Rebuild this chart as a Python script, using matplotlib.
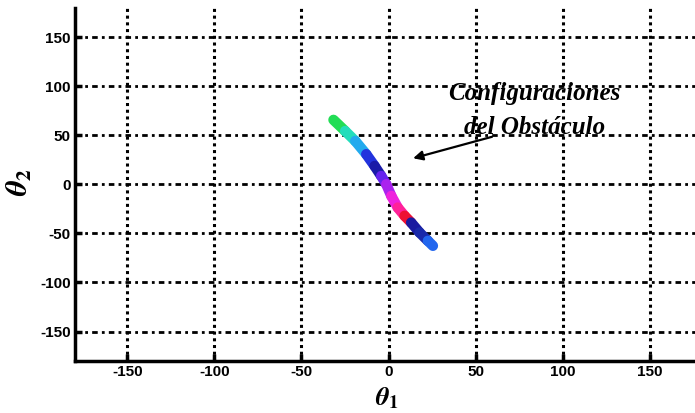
import matplotlib
matplotlib.use("Agg")
import matplotlib.pyplot as plt
from matplotlib.collections import LineCollection
import numpy as np

# trace of obstacle configurations (theta1, theta2)
theta1 = [-31.6, -24.9, -19.1, -12.8, -8.0, -4.2, -1.3, 1.6, 5.3, 9.2, 13.0, 17.8, 22.6, 25.5]
theta2 = [65.8, 54.4, 44.3, 30.8, 18.8, 8.6, 0.2, -11.7, -23.6, -32.0, -38.9, -49.0, -57.5, -62.6]
seg_colors = ['#22dd55', '#22ddbb', '#22aaee', '#2233dd', '#1a1aa8', '#6622ee',
              '#aa22ee', '#ee22dd', '#ff2299', '#ee1133', '#1a1aa0', '#1a2aaa', '#2266ee']

ticks = [-150, -100, -50, 0, 50, 100, 150]
annot_text = "Configuraciones\ndel Obstáculo"

plt.rcParams['mathtext.fontset'] = 'stix'

fig = plt.figure(figsize=(6.95, 4.13), dpi=100)
ax = fig.add_axes([0.108, 0.126, 0.902, 0.855])

pts = np.column_stack([theta1, theta2])
segs = [pts[i:i + 2] for i in range(len(pts) - 1)]
lc = LineCollection(segs, colors=seg_colors, linewidths=7.5, capstyle='round', joinstyle='round', zorder=3)
ax.add_collection(lc)

ax.set_xlim(-180, 180)
ax.set_ylim(-180, 180)
ax.set_xticks(ticks)
ax.set_yticks(ticks)
ax.set_xticklabels([str(t) for t in ticks], fontsize=11, fontweight='bold', family='Liberation Sans')
ax.set_yticklabels([str(t) for t in ticks], fontsize=11, fontweight='bold', family='Liberation Sans')
ax.tick_params(direction='in', length=5, width=2.5, pad=3, colors='black')

# dotted grid, horizontal lines dash-dot
for t in ticks:
    ax.axvline(t, color='black', lw=2.2, ls=(0, (1, 1.2)), zorder=1)
    ax.axhline(t, color='black', lw=2.0, ls=(0, (2, 1.5, 1, 1.5)), zorder=1)

for s in ['top', 'right']:
    ax.spines[s].set_visible(False)
for s in ['left', 'bottom']:
    ax.spines[s].set_linewidth(2.5)

ax.annotate('', xy=(12.6, 25.9), xytext=(61, 49.3),
            arrowprops=dict(arrowstyle='-|>', color='black', lw=1.6, mutation_scale=14), zorder=4)
ax.text(84, 75, annot_text, ha='center', va='center', fontsize=18, fontweight='bold',
        fontstyle='italic', family='Liberation Serif', linespacing=1.6, zorder=5)

fig.text(0.028, 0.56, r'$\boldsymbol{\theta}_\mathbf{2}$', fontsize=22, rotation=90, ha='center', va='center')
fig.text(0.557, 0.036, r'$\boldsymbol{\theta}_\mathbf{1}$', fontsize=19, ha='center', va='center')

fig.savefig('out.png', dpi=100)
